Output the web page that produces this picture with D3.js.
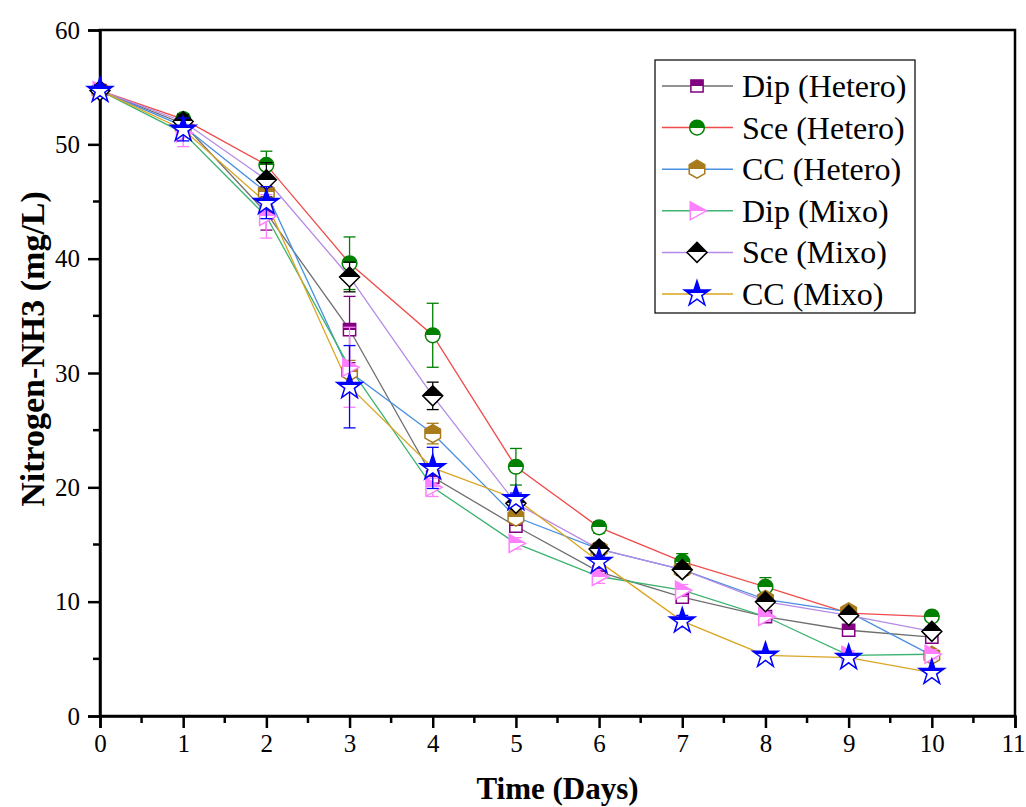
<!DOCTYPE html>
<html><head><meta charset="utf-8">
<script src="https://cdn.jsdelivr.net/npm/d3@7"></script>
<style>body{margin:0;background:#fff}svg{display:block}text{font-family:"Liberation Serif","Times New Roman",serif}</style>
</head><body><svg id="c" width="1026" height="807"></svg>
<script>
const days = [0,1,2,3,4,5,6,7,8,9,10];
const seriesNames = ["Dip (Hetero)","Sce (Hetero)","CC (Hetero)","Dip (Mixo)","Sce (Mixo)","CC (Mixo)"];
const dipHetero = [54.7,51.8,44.0,33.8,20.9,16.6,12.6,10.4,8.7,7.5,6.9];
const sceHetero = [54.7,52.2,48.2,39.6,33.3,21.8,16.5,13.5,11.3,9.0,8.7];
const ccHetero  = [54.7,51.6,45.8,30.1,24.7,17.4,14.6,12.8,10.2,9.1,5.3];
const dipMixo   = [54.7,51.0,43.7,30.5,20.0,15.1,12.2,11.0,8.7,5.3,5.4];
const sceMixo   = [54.7,52.0,46.9,38.4,28.0,18.6,14.6,12.8,10.0,8.8,7.4];
const ccMixo    = [54.7,51.3,44.9,28.8,21.7,19.0,13.5,8.3,5.3,5.1,3.8];
const dipHeteroErr = [0.5,0.6,1.5,2.9,0.8,0.5,0.5,0.4,0.4,0.4,0.4];
const sceHeteroErr = [0.5,0.5,1.2,2.3,2.8,1.6,0.5,0.7,0.8,0.3,0.3];
const ccHeteroErr  = [0.5,0.5,1.0,1.0,0.9,0.6,0.5,0.4,0.4,0.5,0.5];
const dipMixoErr   = [0.5,1.2,1.9,3.5,0.8,0.5,0.6,0.5,0.4,0.4,0.4];
const sceMixoErr   = [0.5,0.6,1.5,1.3,1.2,0.5,0.5,0.5,0.4,0.4,0.4];
const ccMixoErr    = [0.5,1.0,1.4,3.6,1.8,0.5,0.5,0.5,0.3,0.3,0.3];
const xTicks = [0,1,2,3,4,5,6,7,8,9,10,11];
const yTicks = [0,10,20,30,40,50,60];
const xTitle = "Time (Days)";
const yTitle = "Nitrogen-NH3 (mg/L)";

const values = [dipHetero,sceHetero,ccHetero,dipMixo,sceMixo,ccMixo];
const errors = [dipHeteroErr,sceHeteroErr,ccHeteroErr,dipMixoErr,sceMixoErr,ccMixoErr];
const lineColors = ["#6e6e6e","#f04a4a","#4a8fe0","#3cb371","#b58ae6","#daa520"];
const markColors = ["#800080","#008000","#a87b1c","#ff80ff","#000000","#0000ff"];
const shapes = ["square","circle","hexagon","triangle","diamond","star"];

const svg = d3.select("#c");
const L=100,R=1015,T=30,B=716;
const x = d3.scaleLinear().domain([0,11]).range([L,R]);
const y = d3.scaleLinear().domain([0,60]).range([B,T]);

const defs = svg.append("defs");
markColors.forEach((c,i)=>{
  const g = defs.append("linearGradient").attr("id","hf"+i).attr("x1",0).attr("y1",0).attr("x2",0).attr("y2",1);
  g.append("stop").attr("offset","50%").attr("stop-color",c);
  g.append("stop").attr("offset","50%").attr("stop-color","#fff");
});

function shapePath(s){
  if(s==="square") return d3.symbol(d3.symbolSquare,150)();
  if(s==="circle") return d3.symbol(d3.symbolCircle,170)();
  if(s==="diamond") { const r=10; return `M0,${-r}L${r},0L0,${r}L${-r},0Z`; }
  if(s==="star") return d3.symbol(d3.symbolStar,200)();
  if(s==="triangle") { const r=9; return `M${-r*0.75},${-r}L${r*1.05},0L${-r*0.75},${r}Z`; }
  if(s==="hexagon") { const r=9; let p=""; for(let k=0;k<6;k++){const a=Math.PI/6+k*Math.PI/3; p+=(k?"L":"M")+(r*Math.cos(a)).toFixed(2)+","+(r*Math.sin(a)).toFixed(2);} return p+"Z"; }
}

svg.append("rect").attr("x",L).attr("y",T).attr("width",R-L).attr("height",B-T).attr("fill","none").attr("stroke","#000").attr("stroke-width",2.5);

const xAxis = d3.axisBottom(x).tickValues(xTicks).tickFormat(d3.format("d")).tickSize(12).tickPadding(6);
const gx = svg.append("g").attr("transform",`translate(0,${B})`).call(xAxis);
const yAxis = d3.axisLeft(y).tickValues(yTicks).tickFormat(d3.format("d")).tickSize(12).tickPadding(8);
const gy = svg.append("g").attr("transform",`translate(${L},0)`).call(yAxis);
[gx,gy].forEach(g=>{
  g.attr("font-family","Liberation Serif");
  g.select(".domain").attr("stroke-width",2.5);
  g.selectAll(".tick line").attr("stroke-width",2.5);
  g.selectAll(".tick text").attr("font-size",25).attr("fill","#000");
});
gx.selectAll(".tick text").filter(d=>d===11).attr("dx",-2);
const xMinor = d3.range(0.5,11,1);
svg.append("g").selectAll("line").data(xMinor).join("line")
  .attr("x1",d=>x(d)).attr("x2",d=>x(d)).attr("y1",B).attr("y2",B+7).attr("stroke","#000").attr("stroke-width",2.5);
const yMinor = d3.range(5,60,10);
svg.append("g").selectAll("line").data(yMinor).join("line")
  .attr("x1",L).attr("x2",L-7).attr("y1",d=>y(d)).attr("y2",d=>y(d)).attr("stroke","#000").attr("stroke-width",2.5);

svg.append("text").attr("x",(L+R)/2).attr("y",799).attr("text-anchor","middle").attr("font-size",31).attr("font-weight","bold").text(xTitle);
svg.append("text").attr("transform",`translate(44,349) rotate(-90)`).attr("text-anchor","middle").attr("font-size",34).attr("font-weight","bold").text(yTitle);

const plot = svg.append("g");
const line = d3.line().x((d,i)=>x(days[i])).y(d=>y(d));
values.forEach((v,i)=>{
  plot.append("path").datum(v).attr("d",line).attr("fill","none").attr("stroke",lineColors[i]).attr("stroke-width",1.3);
});
values.forEach((v,i)=>{
  const g = plot.append("g");
  const e = errors[i];
  v.forEach((val,j)=>{
    const cx = x(days[j]);
    g.append("line").attr("x1",cx).attr("x2",cx).attr("y1",y(val+e[j])).attr("y2",y(val-e[j])).attr("stroke",markColors[i]).attr("stroke-width",1.3);
    [val+e[j],val-e[j]].forEach(w=>g.append("line").attr("x1",cx-6).attr("x2",cx+6).attr("y1",y(w)).attr("y2",y(w)).attr("stroke",markColors[i]).attr("stroke-width",1.3));
  });
  g.selectAll("path").data(v).join("path")
    .attr("d",shapePath(shapes[i]))
    .attr("transform",(d,j)=>`translate(${x(days[j])},${y(d)})`)
    .attr("fill",`url(#hf${i})`).attr("stroke",markColors[i]).attr("stroke-width",1.5);
});

const lg = svg.append("g");
lg.append("rect").attr("x",655).attr("y",60).attr("width",260).attr("height",253).attr("fill","#fff").attr("stroke","#000").attr("stroke-width",1.2);
seriesNames.forEach((n,i)=>{
  const yy = 86 + i*41.6;
  lg.append("line").attr("x1",662).attr("x2",733).attr("y1",yy).attr("y2",yy).attr("stroke",lineColors[i]).attr("stroke-width",1.5);
  lg.append("path").attr("d",shapePath(shapes[i])).attr("transform",`translate(697,${yy})`).attr("fill",`url(#hf${i})`).attr("stroke",markColors[i]).attr("stroke-width",1.5);
  lg.append("text").attr("x",742).attr("y",yy+11).attr("font-size",32).attr("fill","#000").text(n);
});
</script></body></html>
